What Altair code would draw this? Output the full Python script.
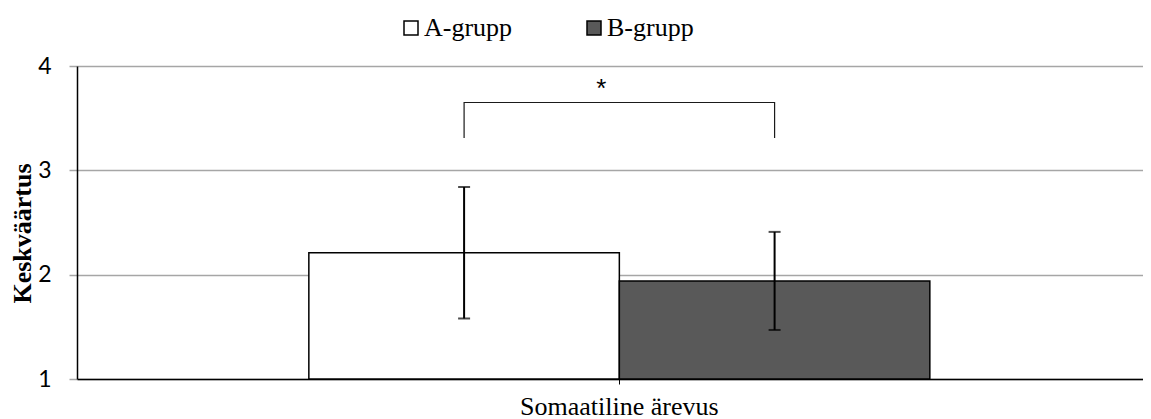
import altair as alt
import pandas as pd

categories = ["Somaatiline ärevus"]
groups = ["A-grupp", "B-grupp"]
means = [2.21, 1.94]
err_low = [1.58, 1.47]
err_high = [2.84, 2.41]
fills = ["#ffffff", "#595959"]
y_ticks = [1, 2, 3, 4]
bracket_low = 3.31
bracket_high = 3.65
star_label = "*"
star_y = 3.84

bars_df = pd.DataFrame({
    "category": [categories[0]] * len(groups),
    "group": groups,
    "mean": means,
    "low": err_low,
    "high": err_high,
    "base": [1] * len(groups),
})

bracket_df = pd.DataFrame({
    "category": [categories[0]] * 4,
    "group": [groups[0], groups[0], groups[1], groups[1]],
    "y": [bracket_low, bracket_high, bracket_high, bracket_low],
    "order": [0, 1, 2, 3],
})

star_df = pd.DataFrame({"category": [categories[0]], "y": [star_y], "label": [star_label]})

x_scale = alt.Scale(domain=categories, paddingOuter=0.3583, paddingInner=0, align=0.521)
xo_scale = alt.Scale(domain=groups, paddingInner=0, paddingOuter=0)
y_scale = alt.Scale(domain=[1, 4], nice=False, zero=False)

x_axis = alt.Axis(
    title=None, labelFont="Liberation Serif", labelFontSize=26, labelColor="black",
    labelAngle=0, domainColor="black", domainWidth=1.5, tickColor="black",
    tickSize=5, labelPadding=9, labelLimit=600,
)
y_axis = alt.Axis(
    values=y_ticks, format="d", labelFont="Lato", labelFontSize=23, labelColor="black",
    grid=True, gridColor="#a6a6a6", gridWidth=1.5, domainColor="black", domainWidth=1.5,
    tickColor="#a6a6a6", tickSize=8, tickWidth=1.5, labelPadding=18,
    title="Keskväärtus", titleFont="Liberation Serif", titleFontSize=26,
    titleFontWeight="bold", titleColor="black", titleX=-55, titleY=167,
    titleAngle=-90, titleBaseline="middle", titleAlign="center",
)

bars = alt.Chart(bars_df).mark_bar(stroke="black", strokeWidth=1.5).encode(
    x=alt.X("category:N", scale=x_scale, axis=x_axis),
    xOffset=alt.XOffset("group:N", scale=xo_scale),
    y=alt.Y("mean:Q", scale=y_scale, axis=y_axis),
    y2="base:Q",
    fill=alt.Fill(
        "group:N",
        scale=alt.Scale(domain=groups, range=fills),
        legend=alt.Legend(
            orient="none", legendX=321, legendY=-51, direction="horizontal",
            title=None, labelFont="Liberation Serif", labelFontSize=26,
            labelColor="black", symbolType="square", symbolSize=196,
            symbolStrokeColor="black", symbolStrokeWidth=1.5, labelOffset=0,
            columnPadding=68, padding=0,
        ),
    ),
)

rules = alt.Chart(bars_df).mark_rule(color="black", strokeWidth=2).encode(
    x=alt.X("category:N"),
    xOffset=alt.XOffset("group:N"),
    y="low:Q",
    y2="high:Q",
)

caps_low = alt.Chart(bars_df).mark_tick(color="black", thickness=2, size=12, orient="horizontal").encode(
    x=alt.X("category:N"),
    xOffset=alt.XOffset("group:N"),
    y="low:Q",
)
caps_high = alt.Chart(bars_df).mark_tick(color="black", thickness=2, size=12, orient="horizontal").encode(
    x=alt.X("category:N"),
    xOffset=alt.XOffset("group:N"),
    y="high:Q",
)

bracket = alt.Chart(bracket_df).mark_line(color="#1a1a1a", strokeWidth=1.2).encode(
    x=alt.X("category:N"),
    xOffset=alt.XOffset("group:N"),
    y="y:Q",
    order="order:Q",
)

star = alt.Chart(star_df).mark_text(
    font="Liberation Sans", fontSize=26, color="black", dx=-18, dy=6, baseline="middle"
).encode(
    x=alt.X("category:N"),
    y="y:Q",
    text="label:N",
)

chart = alt.layer(bars, rules, caps_low, caps_high, bracket, star).properties(
    width=1066, height=313,
    autosize=alt.AutoSizeParams(type="none"),
    padding={"left": 69, "top": 58, "right": 0, "bottom": 40},
).configure_view(stroke=None)

chart.save("out.html", embed_options={"renderer": "svg", "actions": False})
